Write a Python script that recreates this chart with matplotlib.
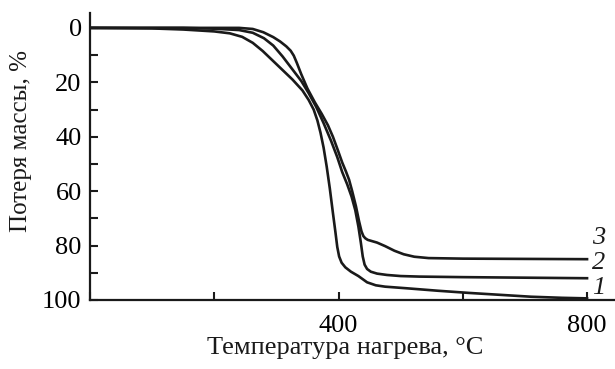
import numpy as np
import matplotlib
matplotlib.use("Agg")
import matplotlib.pyplot as plt
from matplotlib.ticker import MultipleLocator

# Heating temperature, deg C, and mass loss, %, for the three samples
temp_1 = [0, 100, 150, 200, 225, 245, 262, 278, 294, 310, 326, 342, 352, 360,
          366, 371, 376, 381, 386, 391, 395, 398, 401, 405, 411, 420, 432,
          446, 460, 475, 510, 560, 610, 660, 710, 760, 800]
loss_1 = [0, 0.2, 0.6, 1.3, 2.0, 3.3, 5.5, 8.5, 12, 15.5, 19, 23, 26.5, 30,
          34, 38.5, 44, 51, 59, 68, 75, 80.5, 84, 86.3, 88, 89.6, 91.2,
          93.5, 94.6, 95.1, 95.7, 96.6, 97.4, 98.1, 98.8, 99.2, 99.4]

temp_2 = [0, 150, 200, 240, 262, 280, 295, 310, 325, 340, 352, 364, 376, 388,
          398, 406, 414, 421, 427, 432, 436, 439, 442, 446, 452, 462, 478,
          500, 530, 600, 700, 800]
loss_2 = [0, 0, 0.3, 0.8, 1.8, 3.8, 6.5, 10.5, 15, 19.5, 24, 29, 35, 41.5,
          47.5, 53, 57.5, 62, 67, 73, 79, 84, 87, 88.6, 89.6, 90.3, 90.8,
          91.2, 91.4, 91.6, 91.8, 92]

temp_3 = [0, 200, 240, 262, 279, 295, 306, 316, 323, 328, 333, 340, 350, 362,
          373, 383, 391, 399, 406, 412, 417, 422, 428, 433, 437, 440, 443,
          447, 453, 462, 475, 490, 505, 522, 545, 600, 700, 800]
loss_3 = [0, 0, 0, 0.4, 1.6, 3.4, 5.0, 6.8, 8.4, 10.2, 12.9, 17, 22.3, 27.4,
          31.6, 35.8, 40, 45, 49.5, 52.8, 55.8, 60, 65.5, 71, 74.8, 76.5,
          77.3, 77.9, 78.3, 78.9, 80.2, 81.9, 83.2, 84.1, 84.6, 84.8, 84.9, 85]

curve_labels = ["1", "2", "3"]
label_pos = [95.6, 86.4, 77.2]   # where each curve number sits, %

plt.rcParams["font.family"] = ["Liberation Serif", "DejaVu Serif"]

fig = plt.figure(figsize=(6.15, 3.69), dpi=100)
ax = fig.add_axes([0.1463, 0.187, 0.8537, 0.778])

for t, m in [(temp_1, loss_1), (temp_2, loss_2), (temp_3, loss_3)]:
    ax.plot(t, m, color="#1a1a1a", lw=1.9, solid_joinstyle="round")

# curve numbers to the right of the line ends
for lbl, y in zip(curve_labels, label_pos):
    ax.text(818, y, lbl, fontsize=19, style="italic",
            ha="center", va="center", color="#1a1a1a")

ax.set_xlim(0, 845)
ax.set_ylim(100, -5.5)

ax.xaxis.set_minor_locator(MultipleLocator(200))
ax.yaxis.set_major_locator(MultipleLocator(20))
ax.yaxis.set_minor_locator(MultipleLocator(10))
ax.set_xticks([400, 800])

ax.tick_params(which="both", direction="in", width=1.5, length=6,
               color="#1a1a1a")
ax.tick_params(axis="y", pad=6, labelsize=19)
ax.tick_params(axis="x", pad=11, labelsize=19)

for side in ["top", "right"]:
    ax.spines[side].set_visible(False)
for side in ["left", "bottom"]:
    ax.spines[side].set_linewidth(1.6)
    ax.spines[side].set_color("#1a1a1a")

ax.set_xlabel("Температура нагрева, °C", fontsize=19, color="#1a1a1a")
ax.set_ylabel("Потеря массы, %", fontsize=18, color="#1a1a1a")
ax.xaxis.set_label_coords(0.487, -0.13)
ax.yaxis.set_label_coords(-0.11, 0.554)

fig.savefig("out.png", dpi=100)
